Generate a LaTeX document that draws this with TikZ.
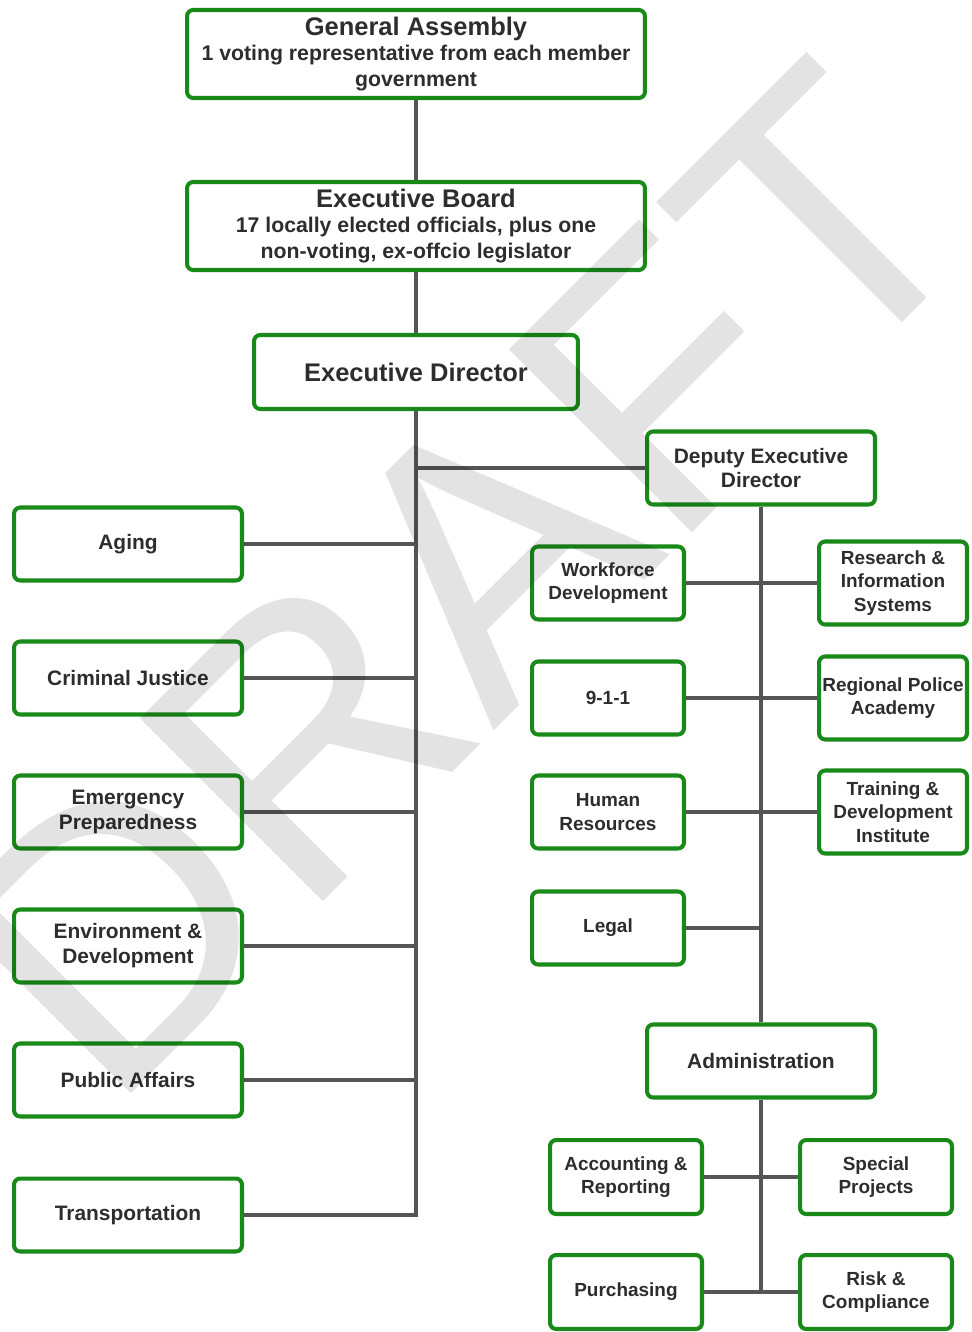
\documentclass[tikz,border=0pt]{standalone}
\usepackage{fontspec}
\setmainfont{Liberation Sans}
\usetikzlibrary{positioning}
\definecolor{ogGreen}{RGB}{25,138,25}
\definecolor{ogLine}{RGB}{85,85,85}
\definecolor{ogText}{RGB}{45,45,45}

\begin{document}
\begin{tikzpicture}[x=0.02cm, y=-0.02cm,
  unit/.style={draw=ogGreen, line width=2.3pt, rounded corners=3.5pt, text=ogText, align=center, inner sep=0pt, font=\bfseries\fontsize{11.9}{14.2}\selectfont},
  topbox/.style={unit, minimum width=9.16cm, minimum height=1.76cm, font=\bfseries\fontsize{12.1}{14.7}\selectfont},
  headbox/.style={unit, minimum width=6.48cm, minimum height=1.48cm, font=\bfseries\fontsize{14.5}{17}\selectfont},
  deptbox/.style={unit, minimum width=4.56cm, minimum height=1.46cm},
  subbox/.style={unit, minimum width=3.04cm, minimum height=1.46cm, font=\bfseries\fontsize{10.8}{13.3}\selectfont},
  sidebox/.style={subbox, minimum width=2.96cm, minimum height=1.66cm},
  adminbox/.style={subbox, minimum height=1.48cm},
  link/.style={draw=ogLine, line width=2.2pt}]
  \useasboundingbox (0,0) rectangle (971,1332);

  % Governing bodies
  \node[topbox] (ga) at (416,54) {{\fontsize{14.5}{17}\selectfont General Assembly}\\ 1 voting representative from each member\\ government};
  \node[topbox] (eb) at (416,226) {{\fontsize{14.5}{17}\selectfont Executive Board}\\ 17 locally elected officials, plus one\\ non-voting, ex-offcio legislator};
  \node[headbox] (ed) at (416,372) {Executive Director};
  \node[deptbox] (ded) at (761,468) {Deputy Executive\\ Director};

  % Departments (left)
  \node[deptbox] (aging) at (128,544) {Aging};
  \node[deptbox] (crim) at (128,678) {Criminal Justice};
  \node[deptbox] (emerg) at (128,812) {Emergency\\ Preparedness};
  \node[deptbox] (envir) at (128,946) {Environment \&\\ Development};
  \node[deptbox] (pubaff) at (128,1080) {Public Affairs};
  \node[deptbox] (transp) at (128,1215) {Transportation};

  % Deputy units
  \node[subbox] (wfd) at (608,583) {Workforce\\ Development};
  \node[sidebox] (ris) at (893,583) {Research \&\\ Information\\ Systems};
  \node[subbox] (nine) at (608,698) {9-1-1};
  \node[sidebox] (rpa) at (893,698) {Regional Police\\ Academy};
  \node[subbox] (hr) at (608,812) {Human\\ Resources};
  \node[sidebox] (tdi) at (893,812) {Training \&\\ Development\\ Institute};
  \node[subbox] (legal) at (608,928) {Legal};
  \node[deptbox] (admin) at (761,1061) {Administration};

  % Administration units
  \node[adminbox] (acct) at (626,1177) {Accounting \&\\ Reporting};
  \node[adminbox] (spec) at (876,1177) {Special\\ Projects};
  \node[adminbox] (purch) at (626,1292) {Purchasing};
  \node[adminbox] (risk) at (876,1292) {Risk \&\\ Compliance};

  % Connectors
  \draw[link] (ga) -- (eb);
  \draw[link] (eb) -- (ed);
  \draw[link] (ed.south) |- (transp.east);
  \foreach \d in {aging,crim,emerg,envir,pubaff}
    \draw[link] (\d.east) -- (\d.east -| ed.south);
  \draw[link] (ded.west -| ed.south) -- (ded.west);
  \draw[link] (ded) -- (admin);
  \foreach \l/\r in {wfd/ris,nine/rpa,hr/tdi}
    \draw[link] (\l.east) -- (\r.west);
  \draw[link] (legal.east) -- (legal.east -| ded.south);
  \draw[link] (admin.south) -- (admin.south |- purch.east);
  \draw[link] (acct.east) -- (spec.west);
  \draw[link] (purch.east) -- (risk.west);

  % Watermark
  \node[rotate=45, inner sep=0pt, text=black, opacity=0.11, font=\fontsize{214}{214}\selectfont] (draft) at (461,581) {DRAFT};
\end{tikzpicture}
\end{document}
